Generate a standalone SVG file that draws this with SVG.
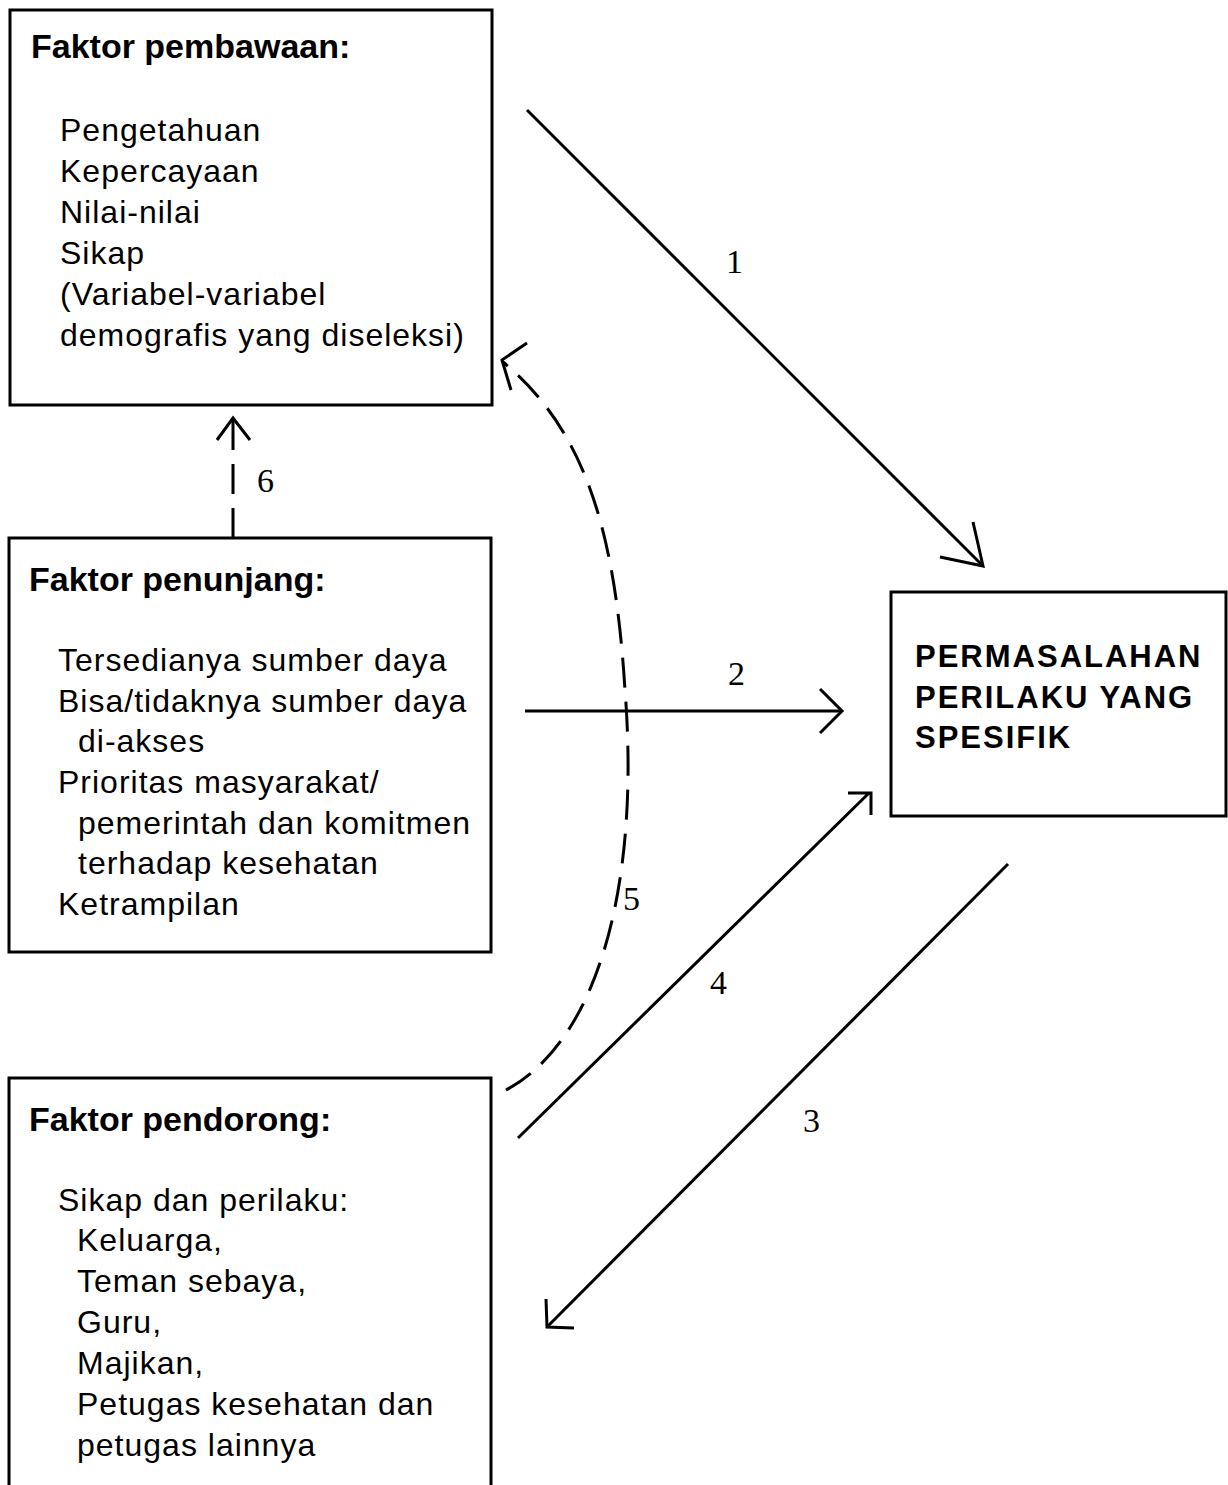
<svg xmlns="http://www.w3.org/2000/svg" width="1228" height="1485" viewBox="0 0 1228 1485">
<style>
.box{fill:#fff;stroke:#000;stroke-width:3}
.t{font-family:"Liberation Sans",Arial,sans-serif;font-size:32px;letter-spacing:1px;fill:#000}
.b{font-family:"Liberation Sans",Arial,sans-serif;font-size:34px;font-weight:bold;fill:#000}
.c{font-family:"Liberation Sans",Arial,sans-serif;font-size:31px;letter-spacing:2px;font-weight:bold;fill:#000}
.n{font-family:"Liberation Serif","Times New Roman",serif;font-size:34px;fill:#000}
.ln{fill:none;stroke:#000;stroke-width:3}
.dash{fill:none;stroke:#000;stroke-width:3;stroke-dasharray:30 14}
</style>
<rect width="1228" height="1485" fill="#fff"/>
<g id="pembawaan">
<rect class="box" x="10" y="10" width="482" height="395"/>
<text class="b" x="31" y="58">Faktor pembawaan:</text>
<text class="t" x="60" y="141">Pengetahuan</text>
<text class="t" x="60" y="182">Kepercayaan</text>
<text class="t" x="60" y="223">Nilai-nilai</text>
<text class="t" x="60" y="264">Sikap</text>
<text class="t" x="60" y="305">(Variabel-variabel</text>
<text class="t" x="60" y="346">demografis yang diseleksi)</text>
</g>
<g id="penunjang">
<rect class="box" x="9" y="538" width="482" height="414"/>
<text class="b" x="29" y="591">Faktor penunjang:</text>
<text class="t" x="58" y="671">Tersedianya sumber daya</text>
<text class="t" x="58" y="712">Bisa/tidaknya sumber daya</text>
<text class="t" x="78" y="752">di-akses</text>
<text class="t" x="58" y="793">Prioritas masyarakat/</text>
<text class="t" x="78" y="834">pemerintah dan komitmen</text>
<text class="t" x="78" y="874">terhadap kesehatan</text>
<text class="t" x="58" y="915">Ketrampilan</text>
</g>
<g id="pendorong">
<rect class="box" x="9" y="1078" width="482" height="420"/>
<text class="b" x="29" y="1131">Faktor pendorong:</text>
<text class="t" x="58" y="1211">Sikap dan perilaku:</text>
<text class="t" x="77" y="1251">Keluarga,</text>
<text class="t" x="77" y="1292">Teman sebaya,</text>
<text class="t" x="77" y="1333">Guru,</text>
<text class="t" x="77" y="1374">Majikan,</text>
<text class="t" x="77" y="1415">Petugas kesehatan dan</text>
<text class="t" x="77" y="1456">petugas lainnya</text>
</g>
<g id="permasalahan">
<rect class="box" x="891" y="592" width="335" height="224"/>
<text class="c" x="915" y="667">PERMASALAHAN</text>
<text class="c" x="915" y="708">PERILAKU YANG</text>
<text class="c" x="915" y="748">SPESIFIK</text>
</g>
<g id="connectors">
<path class="ln" d="M527,110 L983,566"/>
<path class="ln" d="M973,522 L983,566 L940,557"/>
<text class="n" x="726" y="273">1</text>
<path class="ln" d="M525,711 L841,711"/>
<path class="ln" d="M820,689 L842,711 L820,733"/>
<text class="n" x="728" y="685">2</text>
<path class="ln" d="M518,1138 L869,793"/>
<path class="ln" d="M848,793 L871,793 L871,815"/>
<text class="n" x="710" y="994">4</text>
<path class="ln" d="M1008,864 L548,1326"/>
<path class="ln" d="M546,1299 L547,1327 L574,1328"/>
<text class="n" x="803" y="1132">3</text>
<path class="dash" d="M506,1090 C600,1040 640,880 625,690 C615,530 585,430 503,362"/>
<path class="ln" d="M527,343 L502,360 L511,390"/>
<text class="n" x="623" y="910">5</text>
<path class="dash" d="M233,538 L233,420"/>
<path class="ln" d="M217,440 L233,418 L250,440"/>
<text class="n" x="257" y="492">6</text>
</g>
</svg>
